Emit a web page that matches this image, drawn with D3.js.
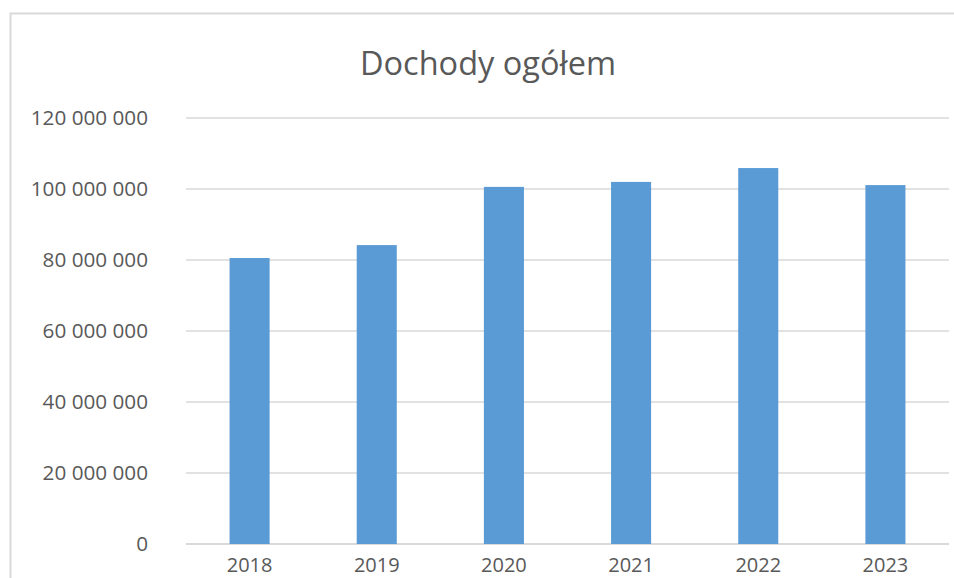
<!DOCTYPE html>
<html>
<head>
<meta charset="utf-8">
<script src="https://cdn.jsdelivr.net/npm/d3@7"></script>
<style>
  body { margin: 0; background: #fff; }
  svg { display: block; }
  text { font-family: "Open Sans", sans-serif; fill: #595959; }
</style>
</head>
<body>
<svg width="954" height="578"></svg>
<script>
var years = ["2018", "2019", "2020", "2021", "2022", "2023"];
var dochody = [80560000, 84200000, 100600000, 102000000, 105900000, 101100000];
var yTicks = [0, 20000000, 40000000, 60000000, 80000000, 100000000, 120000000];
var title = "Dochody ogółem";

var svg = d3.select("svg");

var margin = {left: 186, right: 5, top: 118, bottom: 34};
var width = 954, height = 578;

// chart frame
svg.append("rect")
    .attr("x", 10.5).attr("y", 13.5)
    .attr("width", 960).attr("height", 600)
    .attr("fill", "none")
    .attr("stroke", "#d9d9d9")
    .attr("stroke-width", 2);

var locale = d3.formatLocale({decimal: ",", thousands: " ", grouping: [3], currency: ["", ""]});
var fmt = locale.format(",");

var x = d3.scaleBand()
    .domain(years)
    .range([margin.left, width - margin.right])
    .paddingInner(0.685)
    .paddingOuter(0.3425);

var y = d3.scaleLinear()
    .domain([0, 120000000])
    .range([height - margin.bottom, margin.top]);

// gridlines
svg.append("g")
    .selectAll("line")
    .data(yTicks)
    .enter().append("line")
    .attr("x1", margin.left)
    .attr("x2", width - margin.right)
    .attr("y1", function(d) { return y(d); })
    .attr("y2", function(d) { return y(d); })
    .attr("stroke", "#d9d9d9")
    .attr("stroke-width", function(d) { return d === 0 ? 2 : 1.5; });

// bars
svg.append("g")
    .selectAll("rect")
    .data(dochody)
    .enter().append("rect")
    .attr("x", function(d, i) { return x(years[i]); })
    .attr("width", x.bandwidth())
    .attr("y", function(d) { return y(d); })
    .attr("height", function(d) { return y(0) - y(d); })
    .attr("fill", "#5b9bd5");

// y labels
svg.append("g")
    .selectAll("text")
    .data(yTicks)
    .enter().append("text")
    .attr("x", 148)
    .attr("y", function(d) { return y(d); })
    .attr("dy", "0.35em")
    .attr("text-anchor", "end")
    .style("font-size", "20.7px")
    .text(function(d) { return fmt(d); });

// x labels
svg.append("g")
    .selectAll("text")
    .data(years)
    .enter().append("text")
    .attr("x", function(d) { return x(d) + x.bandwidth() / 2; })
    .attr("y", 572)
    .attr("text-anchor", "middle")
    .style("font-size", "20px")
    .text(function(d) { return d; });

svg.append("text")
    .attr("x", 488)
    .attr("y", 75)
    .attr("text-anchor", "middle")
    .style("font-size", "32.5px")
    .text(title);
</script>
</body>
</html>
